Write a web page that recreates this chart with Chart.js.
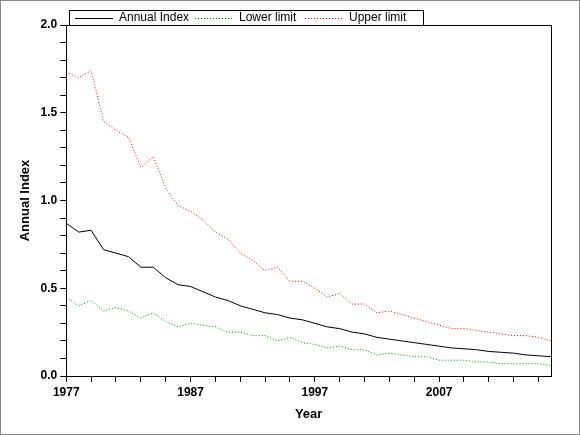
<!DOCTYPE html>
<html><head><meta charset="utf-8">
<script src="https://cdn.jsdelivr.net/npm/chart.js@4"></script>
<style>
html,body{margin:0;padding:0;background:#fff}
#wrap{width:578px;height:433px;border:1px solid #888}
</style></head><body>
<div id="wrap"><canvas id="c" width="578" height="433"></canvas></div>
<script>
const years = [];
for (let y = 1977; y <= 2016; y++) years.push(y);
const annualIndex = [0.87,0.82,0.83,0.72,0.70,0.68,0.62,0.62,0.56,0.52,0.51,0.48,0.45,0.43,0.40,0.38,0.36,0.35,0.33,0.32,0.30,0.28,0.27,0.25,0.24,0.22,0.21,0.20,0.19,0.18,0.17,0.16,0.155,0.15,0.14,0.135,0.13,0.12,0.115,0.11];
const lowerLimit = [0.45,0.40,0.43,0.37,0.39,0.37,0.33,0.36,0.31,0.28,0.30,0.29,0.28,0.25,0.25,0.23,0.23,0.20,0.22,0.19,0.18,0.16,0.17,0.15,0.15,0.12,0.13,0.12,0.11,0.11,0.09,0.09,0.09,0.08,0.08,0.07,0.07,0.07,0.07,0.06];
const upperLimit = [1.73,1.70,1.74,1.45,1.40,1.36,1.19,1.25,1.07,0.97,0.94,0.89,0.82,0.78,0.70,0.66,0.60,0.62,0.54,0.54,0.50,0.45,0.47,0.41,0.41,0.36,0.37,0.35,0.33,0.31,0.29,0.27,0.27,0.26,0.25,0.24,0.23,0.23,0.22,0.20];
const xLabels = [1977, 1987, 1997, 2007];

const pts = arr => arr.map((v, i) => ({x: years[i], y: v}));
Chart.defaults.font.family = '"Liberation Sans", Arial, sans-serif';
Chart.defaults.font.size = 12;
Chart.defaults.color = '#000';

// frame around plot area and a boxed legend at the top
const boxes = {
  id: 'boxes',
  afterDraw(chart) {
    const ctx = chart.ctx, a = chart.chartArea;
    ctx.save();
    ctx.strokeStyle = '#000';
    ctx.lineWidth = 1;
    ctx.strokeRect(Math.round(a.left) + 0.5, Math.round(a.top) + 0.5, Math.round(a.right - a.left), Math.round(a.bottom - a.top));
    ctx.strokeRect(68.5, 9.5, 354, 15);
    const xs = [74, 194, 304];
    ctx.font = '12px "Liberation Sans", Arial, sans-serif';
    ctx.textBaseline = 'middle';
    chart.data.datasets.forEach((d, i) => {
      ctx.strokeStyle = d.borderColor;
      ctx.setLineDash(d.borderDash || []);
      ctx.beginPath();
      ctx.moveTo(xs[i], 17.5);
      ctx.lineTo(xs[i] + 38, 17.5);
      ctx.stroke();
      ctx.setLineDash([]);
      ctx.fillStyle = '#000';
      ctx.fillText(d.label, xs[i] + 44, 17);
    });
    ctx.restore();
  }
};

new Chart(document.getElementById('c'), {
  type: 'line',
  data: {
    datasets: [
      {label: 'Annual Index', data: pts(annualIndex), borderColor: '#000', borderWidth: 1, pointRadius: 0, tension: 0},
      {label: 'Lower limit', data: pts(lowerLimit), borderColor: '#008000', borderWidth: 1, borderDash: [1, 2], pointRadius: 0, tension: 0},
      {label: 'Upper limit', data: pts(upperLimit), borderColor: '#ff0000', borderWidth: 1, borderDash: [1, 2], pointRadius: 0, tension: 0}
    ]
  },
  options: {
    responsive: false,
    animation: false,
    layout: {padding: {left: 13, right: 28, top: 24, bottom: 8}},
    plugins: {
      legend: {display: false},
      tooltip: {enabled: false}
    },
    scales: {
      x: {
        type: 'linear', min: 1977, max: 2016,
        afterBuildTicks: s => { const t = []; for (let y = 1977; y <= 2016; y += 2) t.push({value: y}); s.ticks = t; },
        ticks: {autoSkip: false, maxRotation: 0, font: {weight: 'bold'}, callback: v => xLabels.includes(v) ? String(v) : ''},
        grid: {drawOnChartArea: false, color: '#000', tickLength: 6},
        border: {color: '#000'},
        title: {display: true, text: 'Year', font: {weight: 'bold', size: 13}}
      },
      y: {
        min: 0, max: 2,
        afterBuildTicks: s => { const t = []; for (let i = 0; i <= 20; i++) t.push({value: i / 10}); s.ticks = t; },
        ticks: {autoSkip: false, font: {weight: 'bold'}, callback: v => (Math.round(v * 10) % 5 === 0) ? v.toFixed(1) : ''},
        grid: {drawOnChartArea: false, color: '#000', tickLength: 6},
        border: {color: '#000'},
        title: {display: true, text: 'Annual Index', font: {weight: 'bold', size: 13}}
      }
    }
  },
  plugins: [boxes]
});
</script>
</body></html>
